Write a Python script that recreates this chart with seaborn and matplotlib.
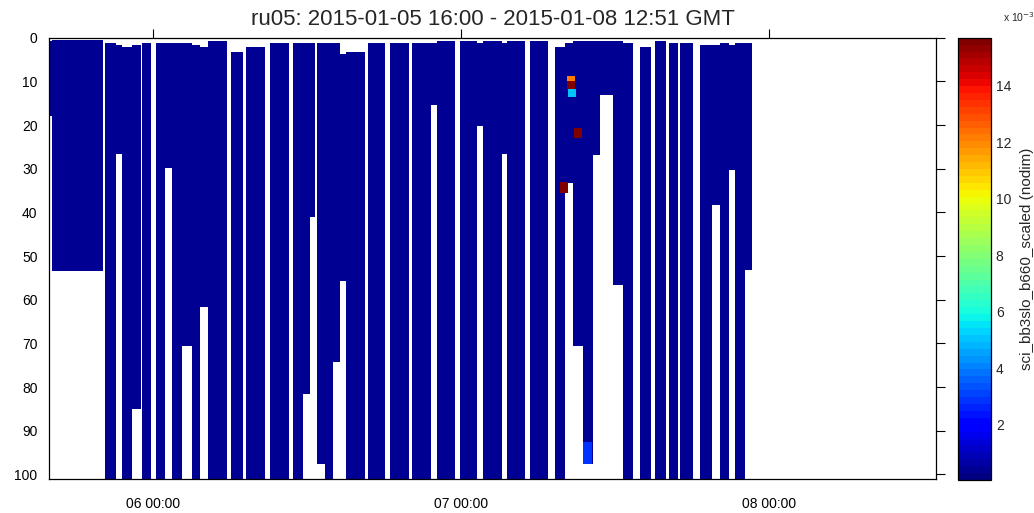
import numpy as np
import pandas as pd
import seaborn as sns
import matplotlib.pyplot as plt
import matplotlib.dates as mdates
from matplotlib.colors import Normalize
from matplotlib.cm import ScalarMappable

# Glider ru05 yo blocks
# times are hours since 2015-01-05 00:00 GMT, depths in m
t0 = pd.Timestamp("2015-01-05 00:00")

seg_start = [16.00, 16.11, 20.24, 21.09, 21.56, 22.34, 23.12, 24.21, 24.91, 25.46,
             26.24, 27.02, 27.64, 28.26, 30.05, 31.22, 33.09, 34.88, 35.66, 36.21,
             36.76, 37.38, 38.00, 38.55, 39.02, 40.73, 42.45, 44.16, 45.64, 46.11,
             47.90, 49.22, 49.69, 51.17, 51.56, 53.36, 55.31, 56.09, 56.71, 57.49,
             58.27, 58.82, 59.83, 60.61, 61.93, 63.10, 64.19, 65.05, 66.61, 67.55,
             68.17, 68.87, 69.34, 70.12]
seg_end = [16.11, 20.08, 21.09, 21.56, 22.34, 23.04, 23.82, 24.91, 25.46, 26.24,
           27.02, 27.64, 28.26, 29.74, 30.99, 32.70, 34.57, 35.66, 36.21, 36.60,
           37.38, 38.00, 38.55, 39.02, 40.50, 42.06, 43.93, 45.64, 46.11, 47.51,
           49.22, 49.69, 51.17, 51.56, 52.97, 54.76, 56.09, 56.71, 57.49, 58.27,
           58.82, 59.83, 60.61, 61.39, 62.79, 63.96, 64.90, 66.07, 67.55, 68.17,
           68.87, 69.34, 70.12, 70.66]
seg_top = [1.0, 0.8, 1.5, 2.0, 2.5, 2.0, 1.5, 1.5, 1.5, 1.5,
           1.5, 2.0, 2.5, 1.0, 3.5, 2.5, 1.5, 1.5, 1.5, 1.5,
           1.5, 1.5, 1.5, 4.0, 3.5, 1.5, 1.5, 1.5, 1.5, 1.0,
           1.0, 1.5, 1.0, 1.5, 1.0, 1.0, 2.5, 1.5, 1.0, 1.0,
           1.0, 1.0, 1.0, 1.5, 2.5, 1.0, 1.5, 1.5, 2.0, 2.0,
           1.5, 2.0, 1.5, 1.5]
seg_bottom = [17.7, 53.2, 101.2, 26.5, 101.2, 84.8, 101.2, 101.2, 29.5, 101.2,
              70.7, 101.2, 61.5, 101.2, 101.2, 101.2, 101.2, 101.2, 81.3, 40.8,
              97.5, 101.2, 74.2, 55.6, 101.2, 101.2, 101.2, 101.2, 15.1, 101.2,
              101.2, 20.0, 101.2, 26.4, 101.2, 101.2, 101.2, 33.0, 70.7, 97.5,
              26.8, 12.8, 56.5, 101.2, 101.2, 101.2, 101.2, 101.2, 101.2, 38.0,
              101.2, 30.0, 101.2, 53.0]
background_value = 0.0005

# the few high readings
hot_start = [56.24, 56.24, 56.32, 56.78, 55.72, 57.55]
hot_end = [56.86, 56.86, 56.94, 57.40, 56.28, 58.20]
hot_top = [9.0, 10.3, 12.0, 20.9, 33.4, 92.8]
hot_bottom = [10.3, 12.0, 13.6, 22.9, 35.6, 97.4]
hot_value = [0.0122, 0.0157, 0.0050, 0.0157, 0.0157, 0.0028]

vmin, vmax = 0.00005, 0.0157
cbar_ticks = [0.002, 0.004, 0.006, 0.008, 0.010, 0.012, 0.014]


def block(start, end, top, bottom, value, inset=0.1):
    n_t = max(2, int(round((end - start - 2 * inset) / 0.1)) + 1)
    ts = np.linspace(start + inset, end - inset, n_t)
    ds = np.arange(top, bottom + 0.01, 0.45)
    T, D = np.meshgrid(ts, ds)
    return pd.DataFrame({"hours": T.ravel(), "depth": D.ravel(), "value": value})


frames = [block(a, b, c, d, background_value)
          for a, b, c, d in zip(seg_start, seg_end, seg_top, seg_bottom)]
frames += [block(a, b, c, d, v, inset=0.08)
           for a, b, c, d, v in zip(hot_start, hot_end, hot_top, hot_bottom, hot_value)]
df = pd.concat(frames, ignore_index=True)
df["time"] = t0 + pd.to_timedelta(df["hours"], unit="h")

sns.set_theme(style="white")
plt.rcParams["font.family"] = ["Liberation Sans", "DejaVu Sans"]
plt.rcParams["axes.edgecolor"] = "black"
plt.rcParams["axes.linewidth"] = 0.9

cmap = plt.get_cmap("jet", 64)
norm = Normalize(vmin=vmin, vmax=vmax)

W, H = 1034, 513
fig = plt.figure(figsize=(W / 100, H / 100), dpi=100)
ax = fig.add_axes([49.3 / W, (H - 479.3) / H, (936 - 49.3) / W, (479.3 - 37.7) / H])

sns.scatterplot(data=df, x="time", y="depth", hue="value", palette=cmap,
                hue_norm=norm, marker="s", s=4, linewidth=0, legend=False,
                ax=ax)

ax.set_xlim(t0 + pd.Timedelta(hours=15.9), t0 + pd.Timedelta(hours=85.0))
ax.set_ylim(101.1, 0)
ax.set_yticks(np.arange(0, 101, 10))
ax.set_xticks([t0 + pd.Timedelta(days=d) for d in (1, 2, 3)])
ax.xaxis.set_major_formatter(mdates.DateFormatter("%d %H:%M"))
ax.set_xlabel("")
ax.set_ylabel("")
ax.tick_params(direction="out", top=True, right=True, length=6.5, width=0.8,
               labelsize=10, colors="black", pad=2)
ax.tick_params(axis="x", pad=6)
ax.set_title("ru05: 2015-01-05 16:00 - 2015-01-08 12:51 GMT", fontsize=16,
             pad=9)

cax = fig.add_axes([958 / W, (H - 480) / H, 33 / W, (480 - 37.7) / H])
cb = fig.colorbar(ScalarMappable(norm=norm, cmap=cmap), cax=cax)
cb.set_ticks(cbar_ticks)
cb.set_ticklabels([f"{v * 1000:g}" for v in cbar_ticks])
cb.outline.set_linewidth(0.9)
cax.tick_params(direction="in", left=True, right=True, length=4, width=0.8,
                labelsize=10)
cb.set_label("sci_bb3slo_b660_scaled (nodim)", fontsize=11, labelpad=6)
fig.text(1003 / W, (H - 22) / H, r"x 10$^{-3}$", fontsize=7.5)

fig.savefig("out.png", dpi=100, facecolor="white")
